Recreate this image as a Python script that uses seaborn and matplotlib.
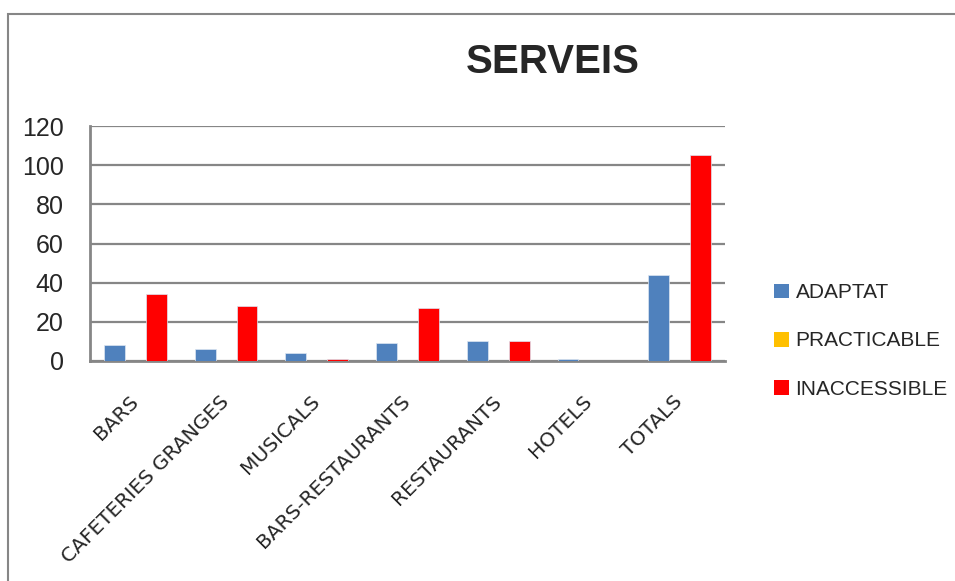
import pandas as pd
import matplotlib
matplotlib.use("Agg")
import matplotlib.pyplot as plt
import seaborn as sns
from matplotlib.patches import Rectangle

# Values
categories = ["BARS", "CAFETERIES GRANGES", "MUSICALS", "BARS-RESTAURANTS",
              "RESTAURANTS", "HOTELS", "TOTALS"]
adaptat = [8, 6, 4, 9, 10, 1, 44]
practicable = [0, 0, 0, 0, 0, 0, 0]
inaccessible = [34, 28, 1, 27, 10, 0, 105]
series = ["ADAPTAT", "PRACTICABLE", "INACCESSIBLE"]
colors = ["#4F81BD", "#FFC000", "#FF0000"]

df = pd.DataFrame({"categoria": categories * 3,
                   "serie": [s for s in series for _ in categories],
                   "valor": adaptat + practicable + inaccessible})

sns.set_style("white")
narrow = ["Liberation Sans Narrow", "Liberation Sans", "DejaVu Sans"]
plt.rcParams["font.family"] = ["DejaVu Sans"]

fig = plt.figure(figsize=(9.55, 5.81), dpi=100)
ax = fig.add_axes([90 / 955, 1 - 361 / 581, 635 / 955, 235 / 581])

sns.barplot(data=df, x="categoria", y="valor", hue="serie", hue_order=series,
            palette=colors, saturation=1, width=0.69, ax=ax, legend=False,
            edgecolor="#dde6f2", linewidth=0.5, zorder=3)

ax.set_xlim(-0.5, len(categories) - 0.5)
ax.set_ylim(0, 120)
ax.set_yticks(range(0, 121, 20))
ax.set_xlabel("")
ax.set_ylabel("")
ax.grid(axis="y", color="#868686", linewidth=1.6, zorder=0)
ax.set_axisbelow(True)
for side in ["top", "right"]:
    ax.spines[side].set_visible(False)
for side in ["left", "bottom"]:
    ax.spines[side].set_color("#868686")
    ax.spines[side].set_linewidth(2)

ax.tick_params(axis="y", length=0, pad=19)
ax.tick_params(axis="x", length=0, pad=27)
for lab in ax.get_yticklabels():
    lab.set_family(narrow)
    lab.set_fontsize(18)
ax.set_xticks(range(len(categories)))
ax.set_xticklabels(categories, rotation=45, ha="right", va="center",
                   rotation_mode="anchor", fontsize=14.5, family="DejaVu Sans")

# legend
handles = [Rectangle((0, 0), 1, 1, facecolor=c, edgecolor="none") for c in colors]
fig.legend(handles, series, loc="center left",
           bbox_to_anchor=(766 / 955, 1 - 341 / 581), frameon=False,
           prop={"family": narrow, "size": 15},
           handlelength=0.72, handleheight=0.72, handletextpad=0.3,
           labelspacing=1.4, borderaxespad=0)

fig.text(553 / 955, 1 - 62 / 581, "SERVEIS", ha="center", va="center",
         fontsize=29, fontweight="bold", family=narrow)

# outer chart border
fig.patches.append(Rectangle((8 / 955, -0.1), 1.2, 1 - 14 / 581 + 0.1,
                             transform=fig.transFigure, fill=False,
                             edgecolor="#868686", linewidth=1.5))

fig.savefig("out.png", dpi=100)
